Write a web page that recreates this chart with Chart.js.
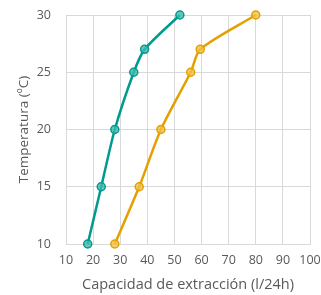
<!DOCTYPE html>
<html><head><meta charset="utf-8">
<script src="https://cdn.jsdelivr.net/npm/chart.js@4"></script>
<style>html,body{margin:0;padding:0;background:#fff}#c{display:block}</style>
</head><body>
<canvas id="c" width="321" height="295"></canvas>
<script>
const tempValues = [10, 15, 20, 25, 27, 30];
const serieA = [18, 23, 28, 35, 39, 52];
const serieB = [28, 37, 45, 56, 59.5, 80];
const xTickRange = [10, 100, 10];
const yTickRange = [10, 30, 5];
const xTitle = 'Capacidad de extracción (l/24h)';
const yTitle = 'Temperatura (ºC)';

const pts = arr => arr.map((v, i) => ({x: v, y: tempValues[i]}));
const font = 'Open Sans';
new Chart(document.getElementById('c'), {
  type: 'scatter',
  data: {datasets: [
    {data: pts(serieA), showLine: true, clip: false, borderColor: '#009A8E', backgroundColor: 'rgba(64,184,174,0.8)', borderWidth: 2.5, pointRadius: 4, pointBorderWidth: 1.5, pointBorderColor: '#009A8E', tension: 0.25},
    {data: pts(serieB), showLine: true, clip: false, borderColor: '#E3A000', backgroundColor: 'rgba(240,192,70,0.8)', borderWidth: 2.5, pointRadius: 4, pointBorderWidth: 1.5, pointBorderColor: '#E3A000', tension: 0.25}
  ]},
  options: {
    responsive: false, animation: false,
    layout: {padding: {top: 15, right: 11, left: 0, bottom: 0}},
    plugins: {legend: {display: false}, tooltip: {enabled: false}},
    scales: {
      x: {type: 'linear', min: xTickRange[0], max: xTickRange[1],
        ticks: {stepSize: xTickRange[2], color: '#595959', font: {family: font, size: 12.5}, padding: 9, maxRotation: 0},
        grid: {color: '#D9D9D9', drawTicks: false}, border: {color: '#D9D9D9'},
        title: {display: true, text: xTitle, color: '#595959', font: {family: font, size: 14.5}, padding: {top: 0, bottom: 1}},
        afterFit: s => { s.height = 51; s.paddingLeft = 0; s.paddingRight = 0; }
      },
      y: {type: 'linear', min: yTickRange[0], max: yTickRange[1],
        ticks: {stepSize: yTickRange[2], color: '#595959', font: {family: font, size: 12.5}, padding: 15},
        grid: {color: '#D9D9D9', drawTicks: false}, border: {color: '#D9D9D9'},
        title: {display: true, text: yTitle, color: '#595959', font: {family: font, size: 13.5}, padding: {top: 16, bottom: 0}},
        afterFit: s => { s.width = 66; s.paddingTop = 0; s.paddingBottom = 0; }
      }
    }
  }
});
</script>
</body></html>
